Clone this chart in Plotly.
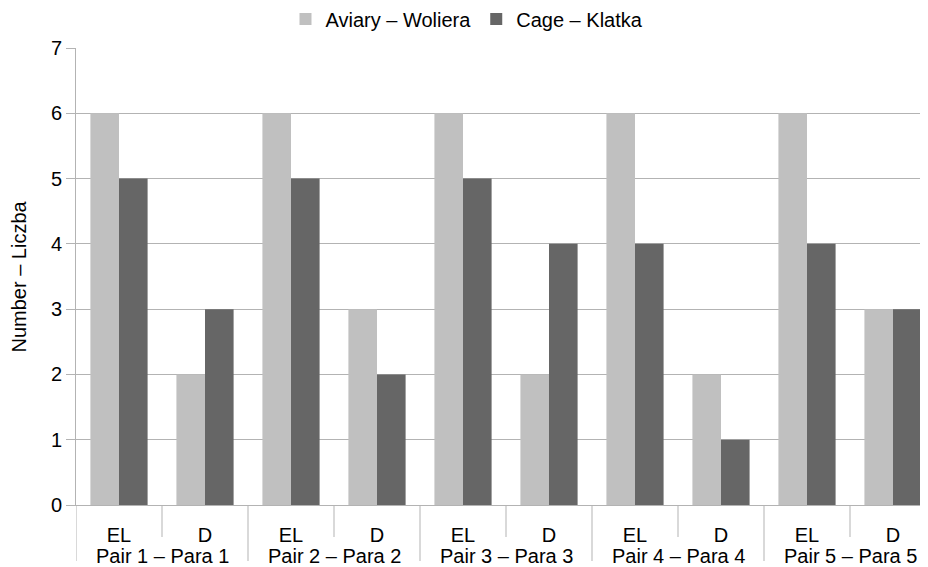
import plotly.graph_objects as go

pairs = ["Pair 1 – Para 1", "Pair 2 – Para 2", "Pair 3 – Para 3", "Pair 4 – Para 4", "Pair 5 – Para 5"]
stages = ["EL", "D"]
aviary = [6, 2, 6, 3, 6, 2, 6, 2, 6, 3]
cage = [5, 3, 5, 2, 5, 4, 4, 1, 4, 3]
series_names = ["Aviary – Woliera", "Cage – Klatka"]
y_title = "Number – Liczba"

LIGHT = "#c0c0c0"
DARK = "#666666"
LINE = "#b3b3b3"
FONT = "Liberation Sans, Arial, sans-serif"
FS = 20

labels = [s for p in pairs for s in stages]
xpos = list(range(len(labels)))

fig = go.Figure()
fig.add_trace(go.Bar(x=xpos, y=aviary, name=series_names[0], marker=dict(color=LIGHT, line=dict(width=0))))
fig.add_trace(go.Bar(x=xpos, y=cage, name=series_names[1], marker=dict(color=DARK, line=dict(width=0))))

shapes = []
n_st = len(stages)
for i in range(len(pairs) + 1):
    xb = i * n_st - 0.5
    shapes.append(dict(type="line", xref="x", yref="paper", ysizemode="pixel", yanchor=0,
                       x0=xb, x1=xb, y0=0, y1=-56, line=dict(color=LINE, width=1)))
for i in range(len(pairs)):
    for j in range(1, n_st):
        xb = i * n_st + j - 0.5
        shapes.append(dict(type="line", xref="x", yref="paper", ysizemode="pixel", yanchor=0,
                           x0=xb, x1=xb, y0=0, y1=-32, line=dict(color=LINE, width=1)))

annotations = []
for i, p in enumerate(pairs):
    annotations.append(dict(text=p, xref="x", yref="paper", x=i * n_st + (n_st - 1) / 2, y=0,
                            yanchor="middle", xanchor="center", yshift=-51, showarrow=False,
                            font=dict(family=FONT, size=FS, color="#000000")))
# y-axis title
annotations.append(dict(text=y_title, xref="paper", yref="paper", x=0, y=0.5, xshift=-58,
                        xanchor="center", yanchor="middle", textangle=-90, showarrow=False,
                        font=dict(family=FONT, size=FS, color="#000000")))

fig.update_layout(
    width=928, height=567,
    margin=dict(l=68, r=0, t=40, b=69.5, autoexpand=False),
    paper_bgcolor="white", plot_bgcolor="white",
    barmode="group", bargap=0.335, bargroupgap=0,
    font=dict(family=FONT, size=FS, color="#000000"),
    showlegend=True,
    legend=dict(orientation="h", x=0.4946, xref="container", xanchor="center",
                y=1.0634, yref="paper", yanchor="middle",
                font=dict(family=FONT, size=FS), itemwidth=30, bgcolor="rgba(0,0,0,0)"),
    shapes=shapes,
    annotations=annotations,
    xaxis=dict(range=[-0.5, 9.5], tickmode="array", tickvals=xpos, ticktext=labels,
               ticks="", showgrid=False, showline=True, linecolor=LINE, linewidth=1,
               zeroline=False, tickfont=dict(family=FONT, size=FS, color="#000000"),
               ticklabelstandoff=12, automargin=False, fixedrange=True),
    yaxis=dict(range=[0, 7], dtick=1, tick0=0, showgrid=True, gridcolor=LINE, gridwidth=1,
               ticks="outside", ticklen=9, tickcolor=LINE, showline=True, linecolor=LINE, linewidth=1,
               zeroline=False, tickfont=dict(family=FONT, size=FS, color="#000000"),
               automargin=False, fixedrange=True),
)

fig.write_html("out.html")
